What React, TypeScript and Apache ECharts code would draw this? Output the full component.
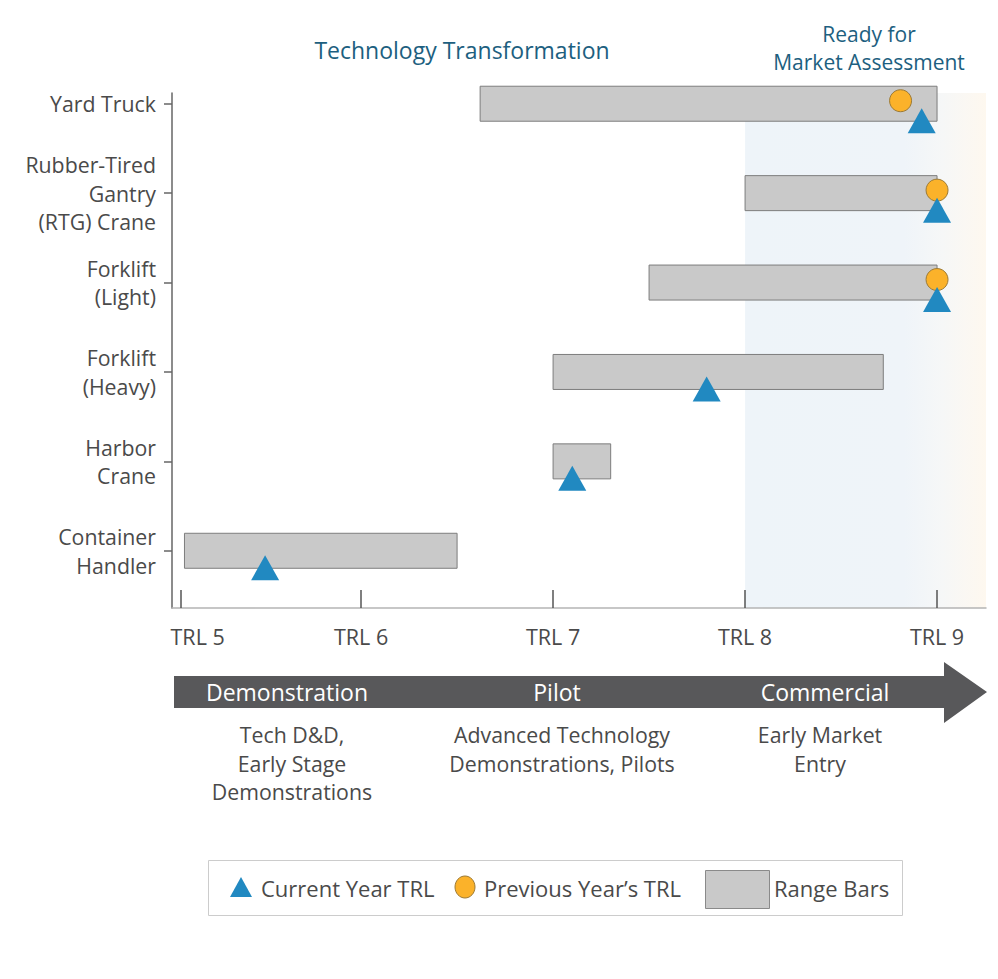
import React, { useEffect, useRef } from "react";
import * as echarts from "echarts";

// Technologies, bottom to top (index = y position)
const categories = [
  "Container\nHandler",
  "Harbor\nCrane",
  "Forklift\n(Heavy)",
  "Forklift\n(Light)",
  "Rubber-Tired\nGantry\n(RTG) Crane",
  "Yard Truck",
];
const rangeStart = [5.08, 7.0, 7.0, 7.5, 8.0, 6.62];
const rangeEnd = [6.5, 7.3, 8.72, 9.0, 9.0, 9.0];
const currentTRL = [5.5, 7.1, 7.8, 9.0, 9.0, 8.92];
const previousTRL: (number | null)[] = [null, null, null, 9.0, 9.0, 8.81];

const trlTickValues = [5.06, 6, 7, 8, 9];
const trlTickLabels = ["TRL 5", "TRL 6", "TRL 7", "TRL 8", "TRL 9"];
const marketStart = 8;

const stageNames = ["Demonstration", "Pilot", "Commercial"];
const stageNotes = [
  "Tech D&D,\nEarly Stage\nDemonstrations",
  "Advanced Technology\nDemonstrations, Pilots",
  "Early Market\nEntry",
];

const FONT = "'Open Sans', sans-serif";
const TEXT = "#4a4a4a";
const TITLE = "#1d5f80";
const BLUE = "#2189c1";
const GOLD = "#fbb22a";
const BAR_H = 35;

export default function App() {
  const ref = useRef<HTMLDivElement>(null);

  useEffect(() => {
    if (!ref.current) return;
    const chart = echarts.init(ref.current, null, { renderer: "svg" });

    const txt = (text: string, x: number, y: number, extra: any = {}) => ({
      type: "text",
      x,
      y,
      style: {
        text,
        fill: TEXT,
        fontSize: 22,
        fontFamily: FONT,
        align: "center",
        verticalAlign: "middle",
        lineHeight: 28,
        ...extra,
      },
    });

    const option: any = {
      animation: false,
      grid: { left: 172, right: 12, top: 93, bottom: 371, containLabel: false },
      xAxis: {
        type: "value",
        min: 5.015,
        max: 9.255,
        splitLine: { show: false },
        axisLine: { show: true, onZero: false, lineStyle: { color: "#b4b4b4", width: 1.5 } },
        axisTick: {
          show: true,
          inside: true,
          length: 18,
          customValues: trlTickValues,
          lineStyle: { color: "#555", width: 1.5 },
        },
        axisLabel: {
          customValues: trlTickValues,
          margin: 17,
          color: TEXT,
          fontSize: 21.5,
          fontFamily: FONT,
          formatter: (v: number) => {
            const i = trlTickValues.findIndex((t) => Math.abs(t - v) < 1e-6);
            const s = trlTickLabels[i] ?? "";
            return i === 0 ? `{first|${s}}` : s;
          },
          rich: {
            first: {
              padding: [0, 0, 0, 34],
              color: TEXT,
              fontSize: 21.5,
              fontFamily: FONT,
            },
          },
        },
      },
      yAxis: {
        type: "value",
        min: -0.64,
        max: 5.12,
        splitLine: { show: false },
        axisLine: { show: true, onZero: false, lineStyle: { color: "#666", width: 1.5 } },
        axisTick: {
          show: true,
          length: 8,
          customValues: categories.map((_, i) => i),
          lineStyle: { color: "#666", width: 1.5 },
        },
        axisLabel: {
          customValues: categories.map((_, i) => i),
          margin: 16,
          color: TEXT,
          fontSize: 21.3,
          lineHeight: 28.5,
          fontFamily: FONT,
          align: "right",
          formatter: (v: number) => categories[Math.round(v)] ?? "",
        },
      },
      series: [
        {
          // market-readiness zone shading
          type: "custom",
          z: 0,
          silent: true,
          data: [[marketStart]],
          encode: { x: 0 },
          renderItem: (params: any, api: any) => {
            const cs = params.coordSys;
            const x0 = api.coord([api.value(0), 0])[0];
            return {
              type: "rect",
              shape: { x: x0, y: cs.y, width: cs.x + cs.width - x0, height: cs.height },
              style: {
                fill: new echarts.graphic.LinearGradient(0, 0, 1, 0, [
                  { offset: 0, color: "#eef4f9" },
                  { offset: 0.66, color: "#eff4f9" },
                  { offset: 0.82, color: "#f6f7f7" },
                  { offset: 1, color: "#fef8ef" },
                ]),
              },
            };
          },
        },
        {
          name: "Range Bars",
          type: "custom",
          z: 2,
          data: categories.map((_, i) => [i, rangeStart[i], rangeEnd[i]]),
          encode: { x: [1, 2], y: 0 },
          renderItem: (_params: any, api: any) => {
            const i = api.value(0);
            const p0 = api.coord([api.value(1), i]);
            const p1 = api.coord([api.value(2), i]);
            return {
              type: "rect",
              shape: { x: p0[0], y: p0[1] - BAR_H / 2, width: p1[0] - p0[0], height: BAR_H },
              style: { fill: "#c9c9c9", stroke: "#7d7d7d", lineWidth: 1 },
            };
          },
        },
        {
          name: "Previous Year's TRL",
          type: "scatter",
          z: 3,
          symbol: "circle",
          symbolSize: 22,
          symbolOffset: [0, -3],
          itemStyle: { color: GOLD, borderColor: "#9c7a35", borderWidth: 1, opacity: 1 },
          data: previousTRL
            .map((v, i) => (v == null ? null : [v, i]))
            .filter((d) => d !== null),
        },
        {
          name: "Current Year TRL",
          type: "scatter",
          z: 4,
          symbol: "triangle",
          symbolSize: [28, 25],
          symbolOffset: [0, 17],
          itemStyle: { color: BLUE, opacity: 1 },
          data: currentTRL.map((v, i) => [v, i]),
        },
      ],
      graphic: [
        txt("Technology Transformation", 462, 50, { fill: TITLE, fontSize: 23 }),
        txt("Ready for\nMarket Assessment", 869, 48, { fill: TITLE, fontSize: 21 }),
        // development-stage arrow
        {
          type: "polygon",
          shape: {
            points: [
              [174, 676],
              [944, 676],
              [944, 662],
              [987, 692],
              [944, 723],
              [944, 708],
              [174, 708],
            ],
          },
          style: { fill: "#58585a" },
        },
        txt(stageNames[0], 287, 692, { fill: "#fff", fontSize: 23 }),
        txt(stageNames[1], 557, 692, { fill: "#fff", fontSize: 23 }),
        txt(stageNames[2], 825, 692, { fill: "#fff", fontSize: 23 }),
        txt(stageNotes[0], 292, 763, { fontSize: 21.3, lineHeight: 28.5 }),
        txt(stageNotes[1], 562, 749, { fontSize: 21.3, lineHeight: 28.5 }),
        txt(stageNotes[2], 820, 749, { fontSize: 21.3, lineHeight: 28.5 }),
        // legend
        {
          type: "rect",
          shape: { x: 208.5, y: 860.5, width: 694, height: 55 },
          style: { fill: "#fff", stroke: "#cccccc", lineWidth: 1 },
        },
        {
          type: "polygon",
          shape: { points: [[241, 877], [252, 897], [230, 897]] },
          style: { fill: BLUE },
        },
        txt("Current Year TRL", 261, 888, { align: "left", fontSize: 22 }),
        {
          type: "ellipse",
          shape: { cx: 465, cy: 887, rx: 10, ry: 11 },
          style: { fill: GOLD, stroke: "#9c7a35", lineWidth: 1 },
        },
        txt("Previous Year\u2019s TRL", 484, 888, { align: "left", fontSize: 22 }),
        {
          type: "rect",
          shape: { x: 705.5, y: 870.5, width: 64, height: 38 },
          style: { fill: "#c9c9c9", stroke: "#8a8a8a", lineWidth: 1 },
        },
        txt("Range Bars", 774, 888, { align: "left", fontSize: 22 }),
      ],
    };

    chart.setOption(option);
    return () => chart.dispose();
  }, []);

  return (
    <div
      ref={ref}
      style={{ position: "absolute", left: 0, top: 0, width: 998, height: 979, background: "#fff" }}
    />
  );
}
